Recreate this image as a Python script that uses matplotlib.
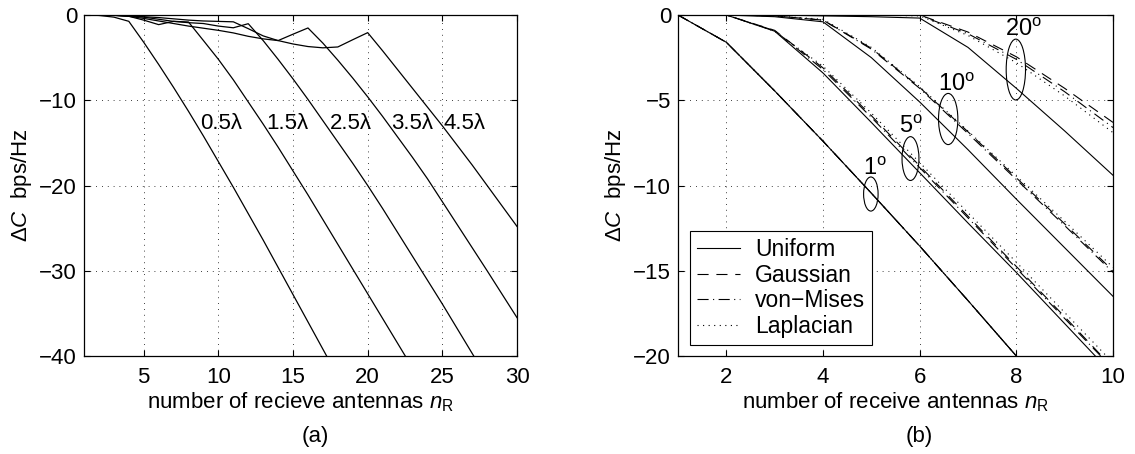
import numpy as np
import matplotlib
matplotlib.use('Agg')
import matplotlib.pyplot as plt
from matplotlib.patches import Ellipse

plt.rcParams['font.family'] = ['Liberation Sans', 'DejaVu Sans']
plt.rcParams['mathtext.fontset'] = 'custom'
plt.rcParams['mathtext.rm'] = 'Liberation Sans'
plt.rcParams['mathtext.it'] = 'Liberation Sans:italic'
plt.rcParams['mathtext.bf'] = 'Liberation Sans:bold'

# (a) capacity loss vs. number of receive antennas, fixed array length
# one curve per antenna array length, values at n_R = 1, 2, 3, ...
spacing_labels = ['0.5\u03bb', '1.5\u03bb', '2.5\u03bb', '3.5\u03bb', '4.5\u03bb']
label_x = [8.79, 13.2, 17.49, 21.54, 25.11]
dC_05 = [0, -0.05, -0.25, -0.74, -3.2, -5.8, -8.5, -11.3, -14.2, -17.2, -20.2, -23.3,
         -26.4, -29.6, -32.8, -36.0, -39.2, -42.4]
dC_15 = [0, 0, -0.03, -0.15, -0.6, -1.13, -0.74, -0.82, -3.0, -5.2, -7.6, -10.2, -12.8,
         -15.5, -18.3, -21.1, -24.0, -26.9, -29.8, -32.7, -35.6, -38.5, -41.4]
dC_25 = [0, 0, -0.03, -0.1, -0.25, -0.5, -0.75, -0.9, -1.0, -1.3, -1.5, -1.02, -3.0, -5.2,
         -7.5, -9.9, -12.4, -14.9, -17.4, -20.0, -22.7, -25.5, -28.3, -31.1, -33.9, -36.8,
         -39.7, -42.6]
dC_35 = [0, 0, -0.02, -0.1, -0.2, -0.3, -0.45, -0.6, -0.7, -0.75, -0.8, -1.6, -2.45, -3.0,
         -2.25, -1.52, -3.3, -5.3, -7.4, -9.6, -11.9, -14.3, -16.7, -19.2, -21.9, -24.6,
         -27.3, -30.0, -32.75, -35.5]
dC_45 = [0, 0, -0.05, -0.15, -0.4, -0.7, -1.0, -1.3, -1.55, -1.8, -2.1, -2.5, -2.8, -3.0,
         -3.4, -3.7, -3.85, -3.75, -2.9, -2.07, -4.2, -6.4, -8.6, -10.8, -13.0, -15.3,
         -17.6, -20.0, -22.4, -24.8]

# (b) capacity loss for different angular spreads and PAS shapes, n_R = 1..10
n_b = np.arange(1, 11)
dists = ['Uniform', 'Gaussian', 'von\u2212Mises', 'Laplacian']
spread_1 = {
    'Uniform':   [0, -1.6, -4.45, -7.4, -10.45, -13.55, -16.75, -20.0, -23.2, -26.4],
    'Gaussian':  [0, -1.6, -4.45, -7.4, -10.45, -13.55, -16.75, -20.0, -23.2, -26.4],
    'von\u2212Mises': [0, -1.6, -4.45, -7.4, -10.45, -13.55, -16.75, -20.0, -23.2, -26.4],
    'Laplacian': [0, -1.6, -4.45, -7.4, -10.45, -13.55, -16.75, -20.0, -23.2, -26.4],
}
spread_5 = {
    'Uniform':   [0, 0, -0.95, -3.4, -6.3, -9.25, -12.2, -15.1, -18.1, -21.1],
    'Gaussian':  [0, 0, -0.9, -3.1, -5.9, -8.85, -11.8, -14.75, -17.7, -20.7],
    'von\u2212Mises': [0, 0, -0.92, -3.2, -6.0, -8.95, -11.9, -14.85, -17.8, -20.75],
    'Laplacian': [0, 0, -0.95, -3.0, -5.75, -8.65, -11.6, -14.5, -17.45, -20.4],
}
spread_10 = {
    'Uniform':   [0, 0, -0.1, -0.4, -2.5, -5.1, -7.9, -10.8, -13.65, -16.5],
    'Gaussian':  [0, 0, -0.05, -0.3, -1.95, -4.25, -6.85, -9.55, -12.25, -15.0],
    'von\u2212Mises': [0, 0, -0.05, -0.3, -2.0, -4.3, -6.95, -9.65, -12.35, -15.1],
    'Laplacian': [0, 0, -0.05, -0.25, -1.9, -4.2, -6.8, -9.45, -12.1, -14.8],
}
spread_20 = {
    'Uniform':   [0, 0, 0, -0.05, -0.1, -0.18, -1.9, -4.3, -6.8, -9.4],
    'Gaussian':  [0, 0, 0, 0, 0, 0, -1.0, -2.45, -4.3, -6.3],
    'von\u2212Mises': [0, 0, 0, 0, 0, -0.02, -1.1, -2.6, -4.5, -6.6],
    'Laplacian': [0, 0, 0, 0, 0, -0.05, -1.2, -2.8, -4.75, -6.9],
}
spreads = [spread_1, spread_5, spread_10, spread_20]
spread_names = ['1', '5', '10', '20']
# ellipse (x, y, w, h) and label position (x, y) for each spread
ell_box = [(4.99, -10.5, 0.30, 2.0), (5.81, -8.42, 0.35, 2.57),
           (6.59, -6.1, 0.40, 3.0), (7.99, -3.2, 0.40, 3.57)]
ell_text = [(5.07, -9.4), (5.82, -6.94), (6.77, -4.46), (8.14, -1.25)]

styles = {
    'Uniform': '-',
    'Gaussian': (0, (10, 7)),
    'von\u2212Mises': (0, (10, 4, 1, 4)),
    'Laplacian': (0, (1, 4)),
}


def style_axes(ax):
    ax.tick_params(direction='in', length=4, width=0.8, top=True, right=True,
                   labelsize=16)
    ax.tick_params(axis='x', pad=8)
    ax.tick_params(axis='y', pad=5)
    for s in ax.spines.values():
        s.set_linewidth(0.9)
    ax.grid(True, color='k', linestyle=(0, (1, 6)), linewidth=0.6)
    ax.set_axisbelow(True)


fig = plt.figure(figsize=(11.35, 4.54), dpi=100)
axa = fig.add_axes([84 / 1135, 98 / 454, 433 / 1135, 341 / 454])
axb = fig.add_axes([678 / 1135, 98 / 454, 435 / 1135, 341 / 454])

# ---- (a)
for vals in [dC_05, dC_15, dC_25, dC_35, dC_45]:
    axa.plot(np.arange(1, len(vals) + 1), vals, color='k', lw=0.9)
for xs, txt in zip(label_x, spacing_labels):
    axa.text(xs, -13.4, txt, fontsize=16, ha='left', va='baseline')
axa.set_xlim(1, 30)
axa.set_ylim(-40, 0)
axa.set_xticks([5, 10, 15, 20, 25, 30])
axa.set_yticks([0, -10, -20, -30, -40])
axa.set_xlabel('number of recieve antennas $n_{\\rm R}$', fontsize=16, labelpad=2)
axa.set_ylabel('$\\Delta C$  bps/Hz', fontsize=16, labelpad=4)
style_axes(axa)

# ---- (b)
for i, sp in enumerate(spreads):
    for d in dists:
        axb.plot(n_b, sp[d], color='k', lw=0.8, linestyle=styles[d],
                 label=d if i == 0 else None)
for (ex, ey, ew, eh), (tx, ty), name in zip(ell_box, ell_text, spread_names):
    axb.add_patch(Ellipse((ex, ey), ew, eh, fill=False, ec='k', lw=0.8))
    axb.text(tx, ty, name + '$^{\\rm o}$', fontsize=17, ha='center', va='baseline')
axb.set_xlim(1, 10)
axb.set_ylim(-20, 0)
axb.set_xticks([2, 4, 6, 8, 10])
axb.set_yticks([0, -5, -10, -15, -20])
axb.set_xlabel('number of receive antennas $n_{\\rm R}$', fontsize=16, labelpad=2)
axb.set_ylabel('$\\Delta C$  bps/Hz', fontsize=16, labelpad=4)
style_axes(axb)
leg = axb.legend(loc='lower left', bbox_to_anchor=(0.0276, 0.032), borderaxespad=0,
                 fontsize=16.5, fancybox=False, framealpha=1, edgecolor='k',
                 borderpad=0.3, labelspacing=0.12, handlelength=1.9,
                 handletextpad=0.65)
leg.get_frame().set_linewidth(0.8)

fig.text(315 / 1135, 0.038, '(a)', fontsize=16, ha='center', va='center')
fig.text(919 / 1135, 0.038, '(b)', fontsize=16, ha='center', va='center')

fig.savefig('out.png', dpi=100)
